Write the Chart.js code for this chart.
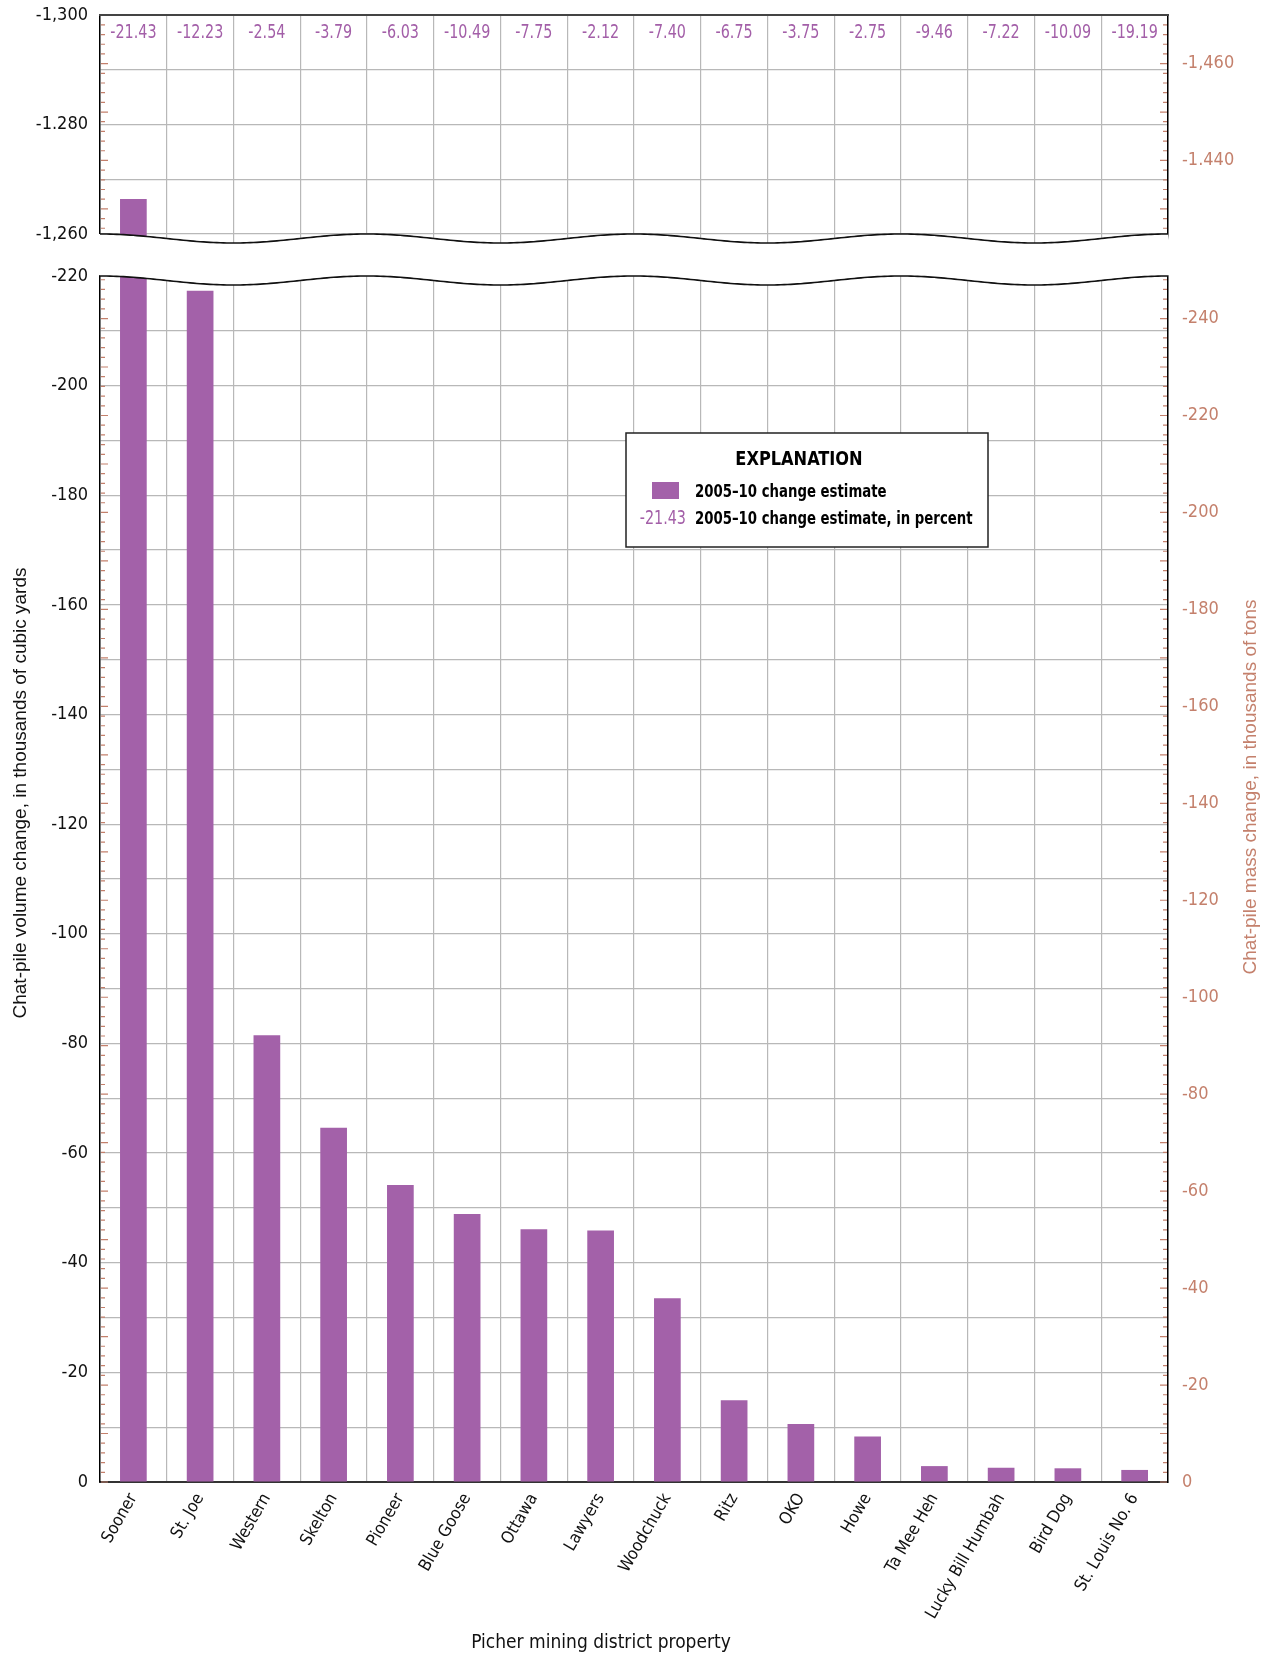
<!DOCTYPE html>
<html>
<head>
<meta charset="utf-8">
<script src="https://cdn.jsdelivr.net/npm/chart.js@4.4.1/dist/chart.umd.min.js"></script>
<style>
  html, body { margin: 0; padding: 0; background: #fff; }
  #wrap { position: relative; width: 1274px; height: 1659px; overflow: hidden; }
  #chartMain { position: absolute; left: 0; top: 0; }
  #chartTop { position: absolute; left: 0; top: -30px; }
</style>
</head>
<body>
<div id="wrap">
  <canvas id="chartMain" width="1274" height="1659"></canvas>
  <canvas id="chartTop" width="1274" height="303"></canvas>
</div>
<script>
// Chart data
const categories = ['Sooner', 'St. Joe', 'Western', 'Skelton', 'Pioneer', 'Blue Goose', 'Ottawa', 'Lawyers',
    'Woodchuck', 'Ritz', 'OKO', 'Howe', 'Ta Mee Heh', 'Lucky Bill Humbah', 'Bird Dog', 'St. Louis No. 6'];
const volumeChange = [-1266.4, -217.3, -81.5, -64.6, -54.2, -48.9, -46.1, -45.9,
    -33.5, -14.9, -10.6, -8.3, -2.9, -2.6, -2.5, -2.2];
const percentChange = ['-21.43', '-12.23', '-2.54', '-3.79', '-6.03', '-10.49', '-7.75', '-2.12',
    '-7.40', '-6.75', '-3.75', '-2.75', '-9.46', '-7.22', '-10.09', '-19.19'];

// Axis ticks (labelled values)
const bottomLeftTicks = [-220, -200, -180, -160, -140, -120, -100, -80, -60, -40, -20, 0];
const bottomRightTicks = [-240, -220, -200, -180, -160, -140, -120, -100, -80, -60, -40, -20, 0];
const topLeftTicks = [-1300, -1280, -1260];
const topLeftTickLabels = ['-1,300', '-1.280', '-1,260'];
const topRightTicks = [-1460, -1440];
const topRightTickLabels = ['-1,460', '-1.440'];

const TONS_PER_YARD = 1.1308;
const GRID_STEP = 10;

// Styles
const barColor = '#a361a9';
const pctColor = '#a35fa8';
const tonColor = '#c4806c';
const gridColor = '#b8b8b8';
const narrow = "'Liberation Sans Narrow', 'Arial Narrow', 'DejaVu Sans Condensed', sans-serif";
const regular = "'Liberation Sans', Arial, sans-serif";

const WAVE_AMP = 9;
const TOP_SHIFT = 30; // top canvas sits 30px above the page so its label padding has room

const gridValues = (from, to, step) => {
    const out = [];
    for (let v = from; v <= to; v += step) out.push({ value: v });
    return out;
};

const waveY = (x, area, base, n) => {
    const period = (area.right - area.left) / n * 4;
    return base + WAVE_AMP * (1 - Math.cos(2 * Math.PI * (x - area.left) / period)) / 2;
};

const traceWave = (ctx, area, base, n, reverse) => {
    const steps = 320;
    for (let i = 0; i <= steps; i++) {
        const t = reverse ? steps - i : i;
        const x = area.left + (area.right - area.left) * t / steps;
        ctx.lineTo(x, waveY(x, area, base, n));
    }
};

// text squeezed sideways to mimic the condensed face of the original
const squeezeText = (ctx, text, x, y, sx) => {
    ctx.save();
    ctx.translate(x, y);
    ctx.scale(sx, 1);
    ctx.fillText(text, 0, 0);
    ctx.restore();
};

// salmon ton ticks on the inside of both vertical axes
const drawTonTicks = (chart, yMinPx, yMaxPx) => {
    const { ctx, chartArea } = chart;
    const s = chart.scales.y2;
    ctx.save();
    ctx.strokeStyle = tonColor;
    ctx.lineWidth = 1.2;
    for (let t = Math.ceil(s.min / 2) * 2; t <= s.max; t += 2) {
        const y = s.getPixelForValue(t);
        if (y < yMinPx - 0.5 || y > yMaxPx + 0.5) continue;
        const len = t % 10 === 0 ? 7 : 4;
        ctx.beginPath();
        ctx.moveTo(chartArea.left + 1, y);
        ctx.lineTo(chartArea.left + 1 + len, y);
        ctx.moveTo(chartArea.right - 1, y);
        ctx.lineTo(chartArea.right - 1 - len, y);
        ctx.stroke();
    }
    ctx.restore();
};

const drawRotated = (ctx, text, x, y, font, color) => {
    ctx.save();
    ctx.translate(x, y);
    ctx.rotate(-Math.PI / 2);
    ctx.font = font;
    ctx.fillStyle = color;
    ctx.textAlign = 'center';
    ctx.textBaseline = 'middle';
    ctx.fillText(text, 0, 0);
    ctx.restore();
};

const mainDecor = {
    id: 'mainDecor',
    afterDraw(chart) {
        const { ctx, chartArea } = chart;
        const n = categories.length;
        const base = chartArea.top;

        // white out everything above the break line
        ctx.save();
        ctx.fillStyle = '#fff';
        ctx.beginPath();
        ctx.moveTo(chartArea.left - 1, base - 3);
        ctx.lineTo(chartArea.right + 1, base - 3);
        traceWave(ctx, chartArea, base, n, true);
        ctx.closePath();
        ctx.fill();

        ctx.strokeStyle = '#111';
        ctx.lineWidth = 1.6;
        ctx.beginPath();
        traceWave(ctx, chartArea, base, n, false);
        ctx.stroke();
        ctx.restore();

        drawTonTicks(chart, chartArea.top + 2, chartArea.bottom);

        // explanation box
        ctx.save();
        ctx.fillStyle = '#fff';
        ctx.fillRect(626, 433, 362, 114);
        ctx.strokeStyle = '#222';
        ctx.lineWidth = 1.5;
        ctx.strokeRect(626, 433, 362, 114);
        ctx.fillStyle = '#000';
        ctx.textBaseline = 'middle';
        ctx.textAlign = 'center';
        ctx.font = `bold 20px ${narrow}`;
        squeezeText(ctx, 'EXPLANATION', 799, 460, 0.9);
        ctx.fillStyle = barColor;
        ctx.fillRect(652, 482, 27, 17);
        ctx.textAlign = 'left';
        ctx.fillStyle = '#000';
        ctx.font = `bold 18px ${narrow}`;
        squeezeText(ctx, '2005\u201310 change estimate', 695, 492, 0.82);
        squeezeText(ctx, '2005\u201310 change estimate, in percent', 695, 519, 0.82);
        ctx.textAlign = 'right';
        ctx.fillStyle = pctColor;
        ctx.font = `19px ${narrow}`;
        squeezeText(ctx, percentChange[0], 686, 519, 0.84);
        ctx.restore();

        // axis titles
        drawRotated(ctx, 'Chat-pile volume change, in thousands of cubic yards', 21, 793, `19px ${regular}`, '#111');
        drawRotated(ctx, 'Chat-pile mass change, in thousands of tons', 1251, 787, `19px ${regular}`, tonColor);
        ctx.save();
        ctx.font = `20px ${narrow}`;
        ctx.fillStyle = '#111';
        ctx.textAlign = 'center';
        ctx.textBaseline = 'middle';
        squeezeText(ctx, 'Picher mining district property', 601, 1643, 0.95);
        ctx.restore();
    }
};

const topDecor = {
    id: 'topDecor',
    afterDraw(chart) {
        const { ctx, chartArea } = chart;
        const n = categories.length;
        const base = chart.scales.y.getPixelForValue(-1260);

        // white out everything below the break line
        ctx.save();
        ctx.fillStyle = '#fff';
        ctx.beginPath();
        ctx.moveTo(chartArea.left - 2, base);
        traceWave(ctx, chartArea, base, n, false);
        ctx.lineTo(chartArea.right + 2, chartArea.bottom + 3);
        ctx.lineTo(chartArea.left - 2, chartArea.bottom + 3);
        ctx.closePath();
        ctx.fill();

        ctx.strokeStyle = '#111';
        ctx.lineWidth = 1.6;
        ctx.beginPath();
        traceWave(ctx, chartArea, base, n, false);
        ctx.stroke();

        // top frame line
        ctx.strokeStyle = '#444';
        ctx.lineWidth = 2;
        ctx.beginPath();
        ctx.moveTo(chartArea.left - 1, chartArea.top);
        ctx.lineTo(chartArea.right + 1, chartArea.top);
        ctx.stroke();
        ctx.restore();

        drawTonTicks(chart, chartArea.top + 2, base);

        // percent labels
        const xs = chart.scales.x;
        ctx.save();
        ctx.font = `19px ${narrow}`;
        ctx.fillStyle = pctColor;
        ctx.textAlign = 'center';
        ctx.textBaseline = 'middle';
        percentChange.forEach((p, i) => squeezeText(ctx, p, xs.getPixelForValue(i), chartArea.top + 18, 0.84));
        ctx.restore();
    }
};

const tickFont = { family: narrow, size: 18 };

new Chart(document.getElementById('chartMain'), {
    type: 'bar',
    data: {
        labels: categories,
        datasets: [{
            data: volumeChange,
            backgroundColor: barColor,
            barPercentage: 0.4,
            categoryPercentage: 1,
            clip: 0,
            yAxisID: 'y'
        }]
    },
    options: {
        responsive: false,
        animation: false,
        layout: { padding: { top: 276, left: 0, right: 0, bottom: 0 } },
        plugins: { legend: { display: false }, tooltip: { enabled: false } },
        scales: {
            x: {
                grid: { color: gridColor, lineWidth: 1.2, drawTicks: false, offset: true },
                border: { color: '#333', width: 2 },
                ticks: { autoSkip: false, minRotation: 60, maxRotation: 60, padding: 8, color: '#111', font: { family: narrow, size: 17 } },
                afterFit: s => { s.height = 177; }
            },
            y: {
                position: 'left',
                reverse: true,
                min: -220,
                max: 0,
                afterBuildTicks: s => { s.ticks = gridValues(-220, 0, GRID_STEP); },
                ticks: {
                    padding: 12,
                    color: '#111',
                    font: tickFont,
                    callback: v => bottomLeftTicks.includes(v) ? String(v) : ''
                },
                grid: { color: gridColor, lineWidth: 1.2, drawTicks: false },
                border: { color: '#000', width: 1.5 },
                afterFit: s => { s.width = 100; }
            },
            y2: {
                position: 'right',
                reverse: true,
                min: -220 * TONS_PER_YARD,
                max: 0,
                afterBuildTicks: s => { s.ticks = bottomRightTicks.map(v => ({ value: v })); },
                ticks: { padding: 14, color: tonColor, font: tickFont, callback: v => String(v) },
                grid: { display: false, drawTicks: false },
                border: { color: '#000', width: 1.5 },
                afterFit: s => { s.width = 106; }
            }
        }
    },
    plugins: [mainDecor]
});

// top panel: -1,300 at page y 15, -1,260 at page y 234, plus room for the break wave
const panelTop = 15;
const panelBreak = 234;
const yardPx = (panelBreak - panelTop) / 40;
const topMax = -1260 + WAVE_AMP / yardPx;
const topCanvasHeight = 303;

new Chart(document.getElementById('chartTop'), {
    type: 'bar',
    data: {
        labels: categories,
        datasets: [{
            data: volumeChange,
            backgroundColor: barColor,
            barPercentage: 0.4,
            categoryPercentage: 1,
            clip: 0,
            yAxisID: 'y'
        }]
    },
    options: {
        responsive: false,
        animation: false,
        layout: {
            padding: {
                top: panelTop + TOP_SHIFT,
                left: 0,
                right: 0,
                bottom: topCanvasHeight - (panelBreak + WAVE_AMP + TOP_SHIFT)
            }
        },
        plugins: { legend: { display: false }, tooltip: { enabled: false } },
        scales: {
            x: {
                grid: { color: gridColor, lineWidth: 1.2, drawTicks: false, offset: true },
                border: { display: false },
                ticks: { display: false },
                afterFit: s => { s.height = 0; }
            },
            y: {
                position: 'left',
                reverse: true,
                min: -1300,
                max: topMax,
                afterBuildTicks: s => { s.ticks = gridValues(-1300, -1260, GRID_STEP); },
                ticks: {
                    padding: 12,
                    color: '#111',
                    font: tickFont,
                    callback: v => {
                        const i = topLeftTicks.indexOf(v);
                        return i >= 0 ? topLeftTickLabels[i] : '';
                    }
                },
                grid: { color: gridColor, lineWidth: 1.2, drawTicks: false },
                border: { color: '#000', width: 1.5 },
                afterFit: s => { s.width = 100; }
            },
            y2: {
                position: 'right',
                reverse: true,
                min: -1300 * TONS_PER_YARD,
                max: topMax * TONS_PER_YARD,
                afterBuildTicks: s => { s.ticks = topRightTicks.map(v => ({ value: v })); },
                ticks: {
                    padding: 14,
                    color: tonColor,
                    font: tickFont,
                    callback: v => {
                        const i = topRightTicks.indexOf(v);
                        return i >= 0 ? topRightTickLabels[i] : '';
                    }
                },
                grid: { display: false, drawTicks: false },
                border: { color: '#000', width: 1.5 },
                afterFit: s => { s.width = 106; }
            }
        }
    },
    plugins: [topDecor]
});
</script>
</body>
</html>
